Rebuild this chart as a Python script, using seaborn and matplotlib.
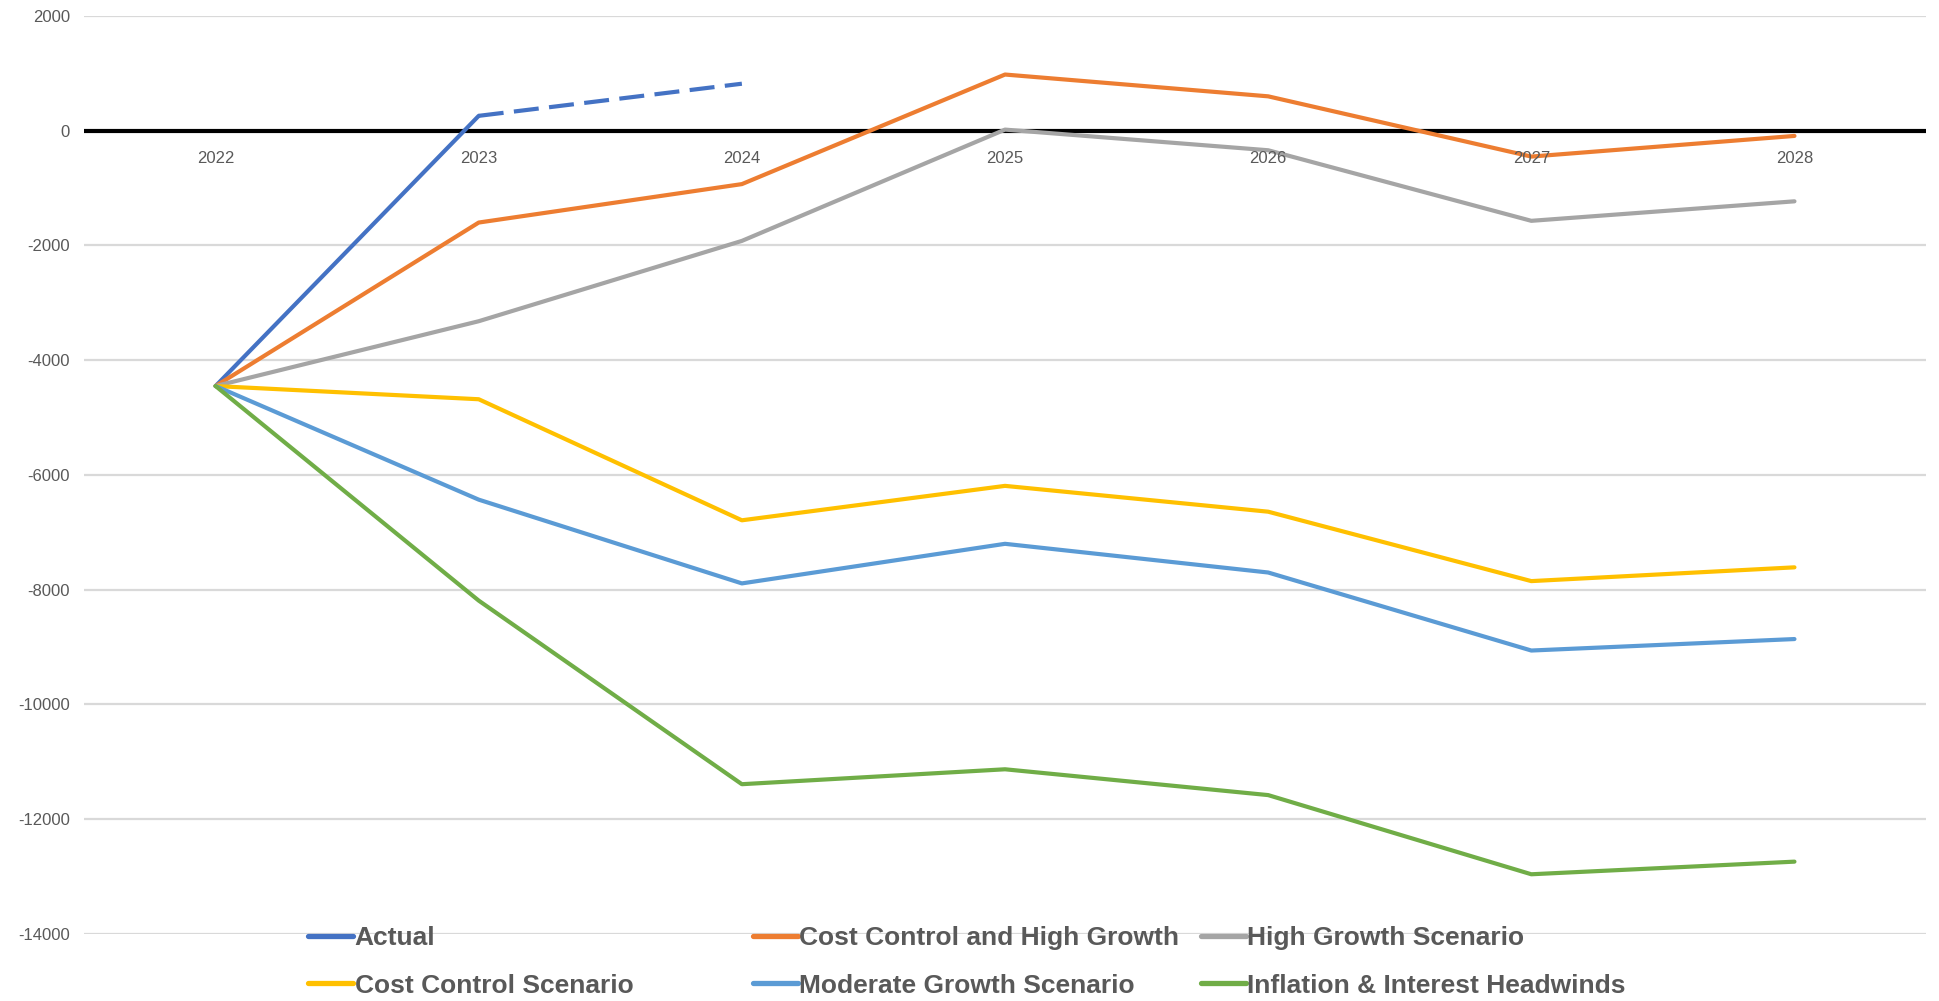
import pandas as pd
import numpy as np
import seaborn as sns
import matplotlib.pyplot as plt
from matplotlib.lines import Line2D

# ---- data ----
years = ["2022", "2023", "2024", "2025", "2026", "2027", "2028"]
actual = [-4450, 260]
actual_proj = [260, 820]
cost_high = [-4450, -1600, -930, 980, 600, -450, -90]
high_growth = [-4450, -3320, -1920, 20, -340, -1570, -1230]
cost_control = [-4450, -4680, -6790, -6190, -6640, -7850, -7610]
moderate = [-4450, -6430, -7890, -7200, -7700, -9060, -8860]
inflation = [-4450, -8190, -11390, -11130, -11580, -12960, -12740]

names = ["Actual", "Cost Control and High Growth", "High Growth Scenario",
         "Cost Control Scenario", "Moderate Growth Scenario", "Inflation & Interest Headwinds"]
colors = ["#4472C4", "#ED7D31", "#A5A5A5", "#FFC000", "#5B9BD5", "#70AD47"]

sns.set_style("white")
plt.rcParams['font.family'] = ['Liberation Sans', 'DejaVu Sans']
plt.rcParams['axes.unicode_minus'] = False

rows = []
for name, vals in zip(names, [actual, cost_high, high_growth, cost_control, moderate, inflation]):
    for i, v in enumerate(vals):
        rows.append({"series": name, "x": i, "value": v})
df = pd.DataFrame(rows)
proj = pd.DataFrame({"x": [1, 2], "value": actual_proj})

fig = plt.figure(figsize=(19.4, 10.01), dpi=100)
ax = fig.add_axes([0.0433, 0.067, 0.9495, 0.917])

# gridlines + zero line
ax.set_yticks(np.arange(-14000, 2001, 2000))
ax.grid(axis="y", color="#d9d9d9", linewidth=1.6)
ax.grid(axis="x", visible=False)
ax.set_axisbelow(True)
ax.axhline(0, color="black", linewidth=3.0, zorder=1.5)

palette = dict(zip(names, colors))
sns.lineplot(data=df, x="x", y="value", hue="series", palette=palette,
             hue_order=names, linewidth=3.0, sort=False, legend=False, ax=ax)
# projected part of Actual is dashed
sns.lineplot(data=proj, x="x", y="value", color=colors[0], linewidth=3.0,
             linestyle=(0, (6, 2.5)), ax=ax)

ax.set_xlim(-0.5, 6.5)
ax.set_ylim(-14000, 2000)
ax.set_xticks([])
ax.set_xlabel("")
ax.set_ylabel("")
for s in ax.spines.values():
    s.set_visible(False)
ax.tick_params(axis="y", length=0, labelsize=12, labelcolor="#595959", pad=10)

# category labels sit just under the zero line
for i, yr in enumerate(years):
    ax.annotate(yr, (i, 0), xytext=(0, -20), textcoords="offset points",
                ha="center", va="center", fontsize=12, color="#595959")

# legend: three columns of two rows, equal column width like Excel
col_x = [0.159, 0.388, 0.619]
order = [[0, 3], [1, 4], [2, 5]]
for cx, idx in zip(col_x, order):
    handles = [Line2D([], [], color=colors[k], linewidth=3.8) for k in idx]
    leg = fig.legend(handles, [names[k] for k in idx], loc="upper left",
                     bbox_to_anchor=(cx, 0.075), frameon=False, ncol=1,
                     handlelength=1.7, handletextpad=0.05, labelspacing=0.9,
                     borderaxespad=0, borderpad=0,
                     prop={"size": 19, "weight": "bold"})
    for t in leg.get_texts():
        t.set_color("#595959")

fig.savefig("out.png", dpi=100)
